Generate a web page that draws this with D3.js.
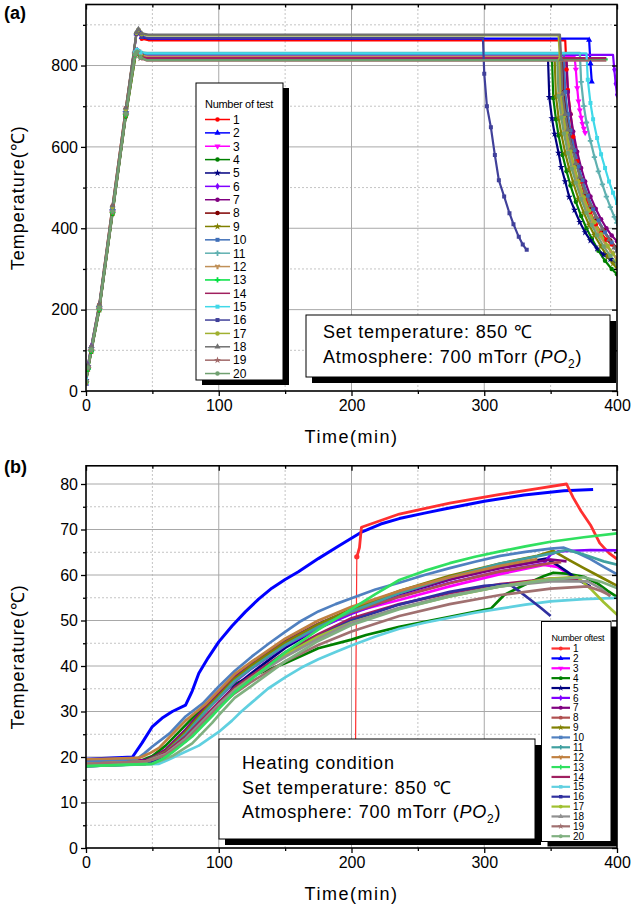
<!DOCTYPE html>
<html><head><meta charset="utf-8">
<script src="https://cdn.jsdelivr.net/npm/d3@7"></script>
<style>body{margin:0;background:#fff} svg{display:block;font-family:Arial,"Liberation Sans",sans-serif}</style>
</head><body><svg id="c" width="641" height="913"></svg>
<script>
// ---------------- DATA ----------------
const testNames = ["1","2","3","4","5","6","7","8","9","10","11","12","13","14","15","16","17","18","19","20"];
const colorsA = ["#ff0000","#0000ff","#ff00ff","#008000","#000080","#8000ff","#800080","#800000","#808000","#3f6fb8","#5fb0b0","#c09058","#00e040","#a0205f","#40d8e8","#40409a","#a0b030","#707070","#a06868","#70a070"];
const colorsB = ["#ff3030","#0000ff","#ff00ff","#008000","#000080","#8000ff","#800080","#b05050","#808000","#5080c0","#40a0a0","#c08040","#30e060","#a02060","#60d0e0","#3030a0","#a0c030","#909090","#a07070","#80b080"];
const markers = ["circle","triangle","triangleDown","circle","star","diamond","circle","circle","star","square","cross","wye","cross","none","square","square","circle","triangle","star","circle"];

const xTicks = [0,100,200,300,400];
const xMinorTicks = [50,150,250,350];
const yTicksA = [0,200,400,600,800];
const yMinorA = [100,300,500,700,900];
const yTicksB = [0,10,20,30,40,50,60,70,80];
const yMinorB = [5,15,25,35,45,55,65,75];

// Panel (a): [time(min), temperature(C)]
const a1 = [[0,22],[1.5,62],[4,108],[10,212],[20,455],[30,695],[38,878],[39.5,886],[42,866],[47,862],[200,862],[361,862],[362,790],[363,740],[365,680],[367,625],[370,565],[373,515],[376,478],[380,440],[384,410],[388,388],[392,372],[396,360],[400,352]];
const a2 = [[0,18],[1.5,58],[4,102],[10,208],[20,448],[30,688],[38,879],[39.5,887],[42,870],[47,866],[200,866],[378,866],[379,863],[380,805],[381,760]];
const a3 = [[0,24],[1.5,55],[4,98],[10,200],[20,438],[30,678],[37,828],[38.5,835],[41,826],[46,823],[200,823],[368,823],[369,790],[370,745],[371,712],[372,690],[373,672],[374,657],[375,645],[376,635]];
const a4 = [[0,20],[1.5,52],[4,96],[10,198],[20,435],[30,675],[37.5,828],[39,834],[41.5,824],[46,819],[200,819],[351,819],[352,720],[354,668],[356,628],[359,580],[362,540],[365,505],[369,465],[373,430],[377,400],[381,375],[386,345],[391,320],[396,300],[400,287]];
const a5 = [[0,26],[1.5,60],[4,104],[10,206],[20,444],[30,684],[37,830],[38.5,836],[41,826],[46,820],[200,820],[348,820],[349,722],[351,670],[353,632],[356,585],[358,550],[361,515],[364,477],[368,445],[372,415],[376,390],[380,370],[385,350],[390,335],[395,324],[400,315]];
const a6 = [[0,30],[1.5,64],[4,110],[10,210],[20,446],[30,686],[37,832],[38.5,837],[41,828],[46,826],[200,826],[397,826],[398,790],[399,755],[400,728]];
const a7 = [[0,22],[1.5,56],[4,100],[10,202],[20,440],[30,680],[37,828],[38.5,834],[41,822],[46,817],[200,817],[362,817],[363,735],[365,680],[367,638],[370,588],[373,548],[376,515],[380,478],[384,448],[388,422],[392,400],[396,382],[400,368]];
const a8 = [[0,28],[1.5,58],[4,102],[10,204],[20,442],[30,682],[37,829],[38.5,835],[41,823],[46,816],[200,816],[359,816],[360,735],[362,680],[364,640],[367,592],[370,553],[373,520],[377,482],[381,450],[385,422],[390,395],[395,370],[400,350]];
const a9 = [[0,20],[1.5,54],[4,98],[10,200],[20,437],[30,677],[37.5,829],[39,835],[41.5,825],[46,820],[200,820],[353,820],[354,725],[356,672],[358,633],[361,585],[364,546],[367,512],[371,472],[375,438],[379,408],[383,383],[388,355],[393,330],[397,313],[400,303]];
const a10 = [[0,24],[1.5,60],[4,106],[10,208],[20,446],[30,686],[37,831],[38.5,837],[41,830],[46,828],[200,828],[360,828],[361,735],[363,680],[365,640],[368,592],[371,552],[374,518],[378,480],[382,447],[386,420],[391,390],[396,365],[400,347]];
const a11 = [[0,26],[1.5,58],[4,104],[10,206],[20,444],[30,684],[37,832],[38.5,838],[41,833],[46,831],[200,831],[372,831],[373,760],[375,700],[377,660],[380,615],[383,575],[386,540],[389,508],[392,478],[395,452],[398,428],[400,413]];
const a12 = [[0,22],[1.5,57],[4,100],[10,203],[20,441],[30,681],[37,829],[38.5,835],[41,825],[46,822],[200,822],[356,822],[357,730],[359,676],[361,636],[364,588],[367,548],[370,514],[374,474],[378,441],[382,412],[387,382],[392,357],[396,340],[400,326]];
const a13 = [[0,20],[1.5,54],[4,98],[10,200],[20,438],[30,678],[37,826],[38.5,833],[41,820],[46,815],[200,815],[393,815]];
const a14 = [[0,24],[1.5,58],[4,102],[10,204],[20,442],[30,682],[37,828],[38.5,834],[41,822],[46,818],[200,818],[392,818]];
const a15 = [[0,28],[1.5,62],[4,106],[10,208],[20,446],[30,686],[37,832],[38.5,838],[41,832],[46,830],[200,830],[377,830],[378,765],[380,708],[382,668],[385,622],[388,582],[391,548],[394,515],[397,487],[400,462]];
const a16 = [[0,22],[1.5,58],[4,104],[10,208],[20,448],[30,688],[38,878],[39.5,886],[42,870],[47,868],[200,868],[299,868],[300,780],[302,700],[305,648],[308,580],[311,518],[315,478],[319,437],[322,410],[326,379],[329,360],[332,347]];
const a17 = [[0,20],[1.5,60],[4,106],[10,210],[20,452],[30,692],[38,880],[39.5,888],[42,877],[47,874],[200,874],[356,874],[357,815],[358,728],[360,676],[362,636],[365,590],[368,550],[371,515],[375,476],[379,443],[383,415],[388,385],[393,357],[397,338],[400,322]];
const a18 = [[0,26],[1.5,64],[4,110],[10,214],[20,456],[30,696],[38,882],[39.5,889],[42,879],[47,876],[200,876],[357,876],[358,815],[359,730],[361,680],[363,642],[366,598],[369,560],[372,526],[376,488],[380,456],[384,428],[389,398],[394,372],[398,352],[400,344]];
const a19 = [[0,22],[1.5,56],[4,100],[10,202],[20,440],[30,680],[37,826],[38.5,832],[41,818],[46,812],[200,812],[392,812]];
const a20 = [[0,24],[1.5,58],[4,102],[10,204],[20,442],[30,682],[37,828],[38.5,834],[41,820],[46,813],[200,813],[355,813],[356,725],[358,672],[360,633],[363,585],[366,546],[369,512],[373,472],[377,438],[381,408],[385,383],[390,355],[395,332],[400,312]];

// Panel (b): [time(min), temperature(C)]
const b1 = [[203,19],[203.5,45],[204,64],[206,66],[207.5,70.5],[236,73.4],[274,75.8],[312,77.7],[340,79],[362,80],[367,77],[373,74],[380,71],[387,67],[394,64.8],[400,63.5]];
const b2 = [[0,19.5],[35,20],[42,23],[50,26.7],[58,28.7],[65,30],[75,31.4],[80,34.5],[85,38.4],[92,41.8],[100,45.3],[110,48.8],[120,51.9],[130,54.7],[140,57.1],[150,59],[160,60.7],[175,63.6],[190,66.3],[208,69.5],[222,71.2],[236,72.4],[255,73.6],[270,74.5],[300,76.2],[330,77.6],[360,78.5],[382,78.8]];
const b3 = [[0,18.5],[45,19],[52,20],[60,21.5],[75,25.5],[90,31.5],[100,34.5],[112,37.8],[125,40.5],[150,45.3],[175,49],[200,51.8],[236,54.5],[274,57.5],[312,60.2],[345,62.2],[355,61.8],[362,60.5],[368,59.5]];
const b4 = [[0,18.5],[40,19],[50,20.2],[60,22.5],[75,27],[90,31.5],[100,33.8],[112,36],[125,37.8],[150,40.6],[175,43.9],[200,45.8],[211,46.8],[236,48.6],[274,50.8],[305,52.6],[315,55.6],[330,57.8],[345,59.8],[352,60.5],[362,60.3],[375,59.6],[385,58.2],[393,56.5],[400,55.2]];
const b5 = [[0,18],[45,18.5],[52,19.2],[60,20.2],[75,23.5],[90,28.5],[100,32],[112,35.5],[125,38.5],[150,44],[175,48.3],[200,51.7],[236,55.8],[274,59],[312,61.8],[347,63.6],[355,62.2],[362,60.8],[372,58.7],[380,57.5]];
const b6 = [[0,18.5],[45,19],[52,19.8],[60,21],[75,25],[90,30],[100,33],[112,36.5],[125,39.5],[150,44.5],[175,48.3],[200,51.5],[236,55.3],[274,58.3],[312,60.8],[345,62.5],[350,64.5],[356,65.2],[380,65.5],[400,65.4]];
const b7 = [[0,19],[45,19.3],[52,20.2],[60,21.6],[75,26],[90,31],[100,34],[112,37.5],[125,40.5],[150,45.5],[175,49.3],[200,52.4],[236,56],[274,59],[312,61.5],[350,63.4],[362,63]];
const b8 = [[0,18.5],[45,19],[52,19.9],[60,21],[75,25],[90,30],[100,33.2],[112,36.8],[125,39.8],[150,44.8],[175,48.8],[200,51.8],[236,55.2],[274,58.2],[312,60.8],[350,62.6],[358,62.8]];
const b9 = [[0,18.5],[45,19],[52,20],[60,21.2],[75,25.5],[90,30.5],[100,33.5],[112,37.2],[125,40.2],[150,45.2],[175,49.2],[200,52.5],[236,56.5],[274,59.8],[312,62.5],[340,64.2],[352,65.3],[362,63.6],[375,61.5],[388,59.5],[401,57.5]];
const b10 = [[0,19],[38,19.5],[44,20.8],[50,22.3],[63,25.2],[75,28.9],[88,31.8],[100,35.5],[112,38.9],[125,42.1],[138,45],[150,47.5],[162,49.9],[175,52],[188,53.6],[200,54.9],[218,56.8],[236,58.3],[255,60],[274,61.5],[293,62.9],[312,64.2],[331,65.1],[350,65.8],[360,66],[370,64.9],[380,63.5],[390,61.8],[401,60]];
const b11 = [[0,18.5],[45,19],[52,19.9],[60,21],[75,25],[90,30],[100,33],[112,36.7],[125,39.6],[150,44.6],[175,48.6],[200,52],[236,56],[274,59.5],[312,62.5],[350,64.7],[362,65.5],[372,64.8],[380,64],[390,63],[401,62.2]];
const b12 = [[0,19.5],[40,19.8],[48,20.8],[55,22],[65,25],[75,28],[90,31.6],[100,34.6],[112,38.2],[125,41],[150,46],[175,50],[200,53],[236,56.5],[274,59.5],[312,62],[340,63.5]];
const b13 = [[0,18],[50,18.5],[58,19.6],[65,21],[80,24.5],[95,29],[100,30.6],[112,34.2],[125,37.2],[150,43],[175,48],[200,52.5],[218,55.8],[236,58.9],[255,60.9],[274,62.6],[293,64],[312,65.2],[331,66.3],[350,67.3],[375,68.3],[401,69.2]];
const b14 = [[0,18.5],[45,19],[52,19.8],[60,21],[75,24.5],[90,29],[100,32],[112,35.3],[125,38],[150,43],[175,47],[200,50.5],[236,53.6],[274,56],[312,58],[350,59.2],[372,59]];
const b15 = [[0,18],[55,18.5],[62,19.4],[70,20.5],[85,22.5],[100,25.5],[110,28],[117,30],[125,32],[137,35],[150,37.5],[162,39.6],[175,41.5],[188,43.1],[200,44.5],[218,46.5],[236,48.2],[255,49.5],[274,50.6],[293,51.7],[312,52.6],[331,53.5],[350,54.2],[375,54.7],[401,55]];
const b16 = [[0,18],[45,18.5],[52,19.4],[60,20.5],[75,24],[90,28.5],[100,31.5],[112,34.8],[125,37.5],[150,42.5],[175,46.5],[200,50],[236,53.5],[274,56.3],[300,57.6],[319,58],[327,56.3],[335,54.5],[343,52.7],[350,51]];
const b17 = [[0,18.5],[45,19],[52,19.7],[60,20.6],[75,24],[90,28.5],[100,31.5],[112,34.8],[125,37.5],[150,42.5],[175,46.5],[200,49.6],[236,52.6],[274,55.3],[312,57.5],[350,59.2],[370,59.6],[380,57],[390,54],[401,51]];
const b18 = [[0,18.5],[45,19],[52,19.7],[60,20.6],[75,24],[90,28.5],[100,31.5],[112,34.6],[125,37.4],[150,42],[175,46],[200,49.5],[236,52.8],[274,55.5],[312,57.5],[350,58.6],[378,58.6],[388,57],[395,55.3]];
const b19 = [[0,18.5],[45,19],[52,19.6],[60,20.4],[75,23.5],[90,28],[100,31],[112,34],[125,36.6],[150,41],[175,44.6],[200,47.6],[236,51],[274,53.6],[312,55.6],[350,57],[378,57.5],[388,56.5],[395,55.5]];
const b20 = [[0,18],[50,18.5],[57,19.3],[65,20.2],[80,23],[95,27.5],[100,29.2],[112,33],[125,35.7],[150,41],[175,45.5],[200,49],[236,52.5],[274,55.3],[312,57.5],[350,59],[375,59.5],[388,58.5],[401,57]];

const seriesA = [a1,a2,a3,a4,a5,a6,a7,a8,a9,a10,a11,a12,a13,a14,a15,a16,a17,a18,a19,a20];
const seriesB = [b1,b2,b3,b4,b5,b6,b7,b8,b9,b10,b11,b12,b13,b14,b15,b16,b17,b18,b19,b20];
const orderB = [1,0,2,3,4,5,6,7,8,9,10,11,13,14,15,16,17,18,19,12];

// ---------------- DRAW ----------------
const svg = d3.select("#c");
const xA = d3.scaleLinear().domain([0,400]).range([86,617]);
const yA = d3.scaleLinear().domain([0,950]).range([391,4.5]);
const xB = d3.scaleLinear().domain([0,400]).range([86,617]);
const yB = d3.scaleLinear().domain([0,84]).range([848,465.8]);

function symPath(type, size){
  const map = {circle:d3.symbolCircle, triangle:d3.symbolTriangle, triangleDown:d3.symbolTriangle, diamond:d3.symbolDiamond, star:d3.symbolStar, square:d3.symbolSquare, cross:d3.symbolCross, wye:d3.symbolWye};
  return d3.symbol().type(map[type]||d3.symbolCircle).size(size)();
}

function frame(id, x, y, xMaj, xMin, yMaj, yMin){
  const [xl,xr] = x.range(), [yb,yt] = y.range();
  const g = svg.append("g");
  svg.append("clipPath").attr("id","clip"+id).append("rect").attr("x",xl).attr("y",yt).attr("width",xr-xl).attr("height",yb-yt);
  g.selectAll(".gxm").data(xMin).join("line").attr("x1",d=>x(d)).attr("x2",d=>x(d)).attr("y1",yb).attr("y2",yt).attr("stroke","#c4c4c4").attr("stroke-dasharray","2,2");
  g.selectAll(".gym").data(yMin).join("line").attr("y1",d=>y(d)).attr("y2",d=>y(d)).attr("x1",xl).attr("x2",xr).attr("stroke","#c4c4c4").attr("stroke-dasharray","2,2");
  g.selectAll(".gx").data(xMaj.filter(d=>d>0&&d<400)).join("line").attr("x1",d=>x(d)).attr("x2",d=>x(d)).attr("y1",yb).attr("y2",yt).attr("stroke","#a8a8a8");
  g.selectAll(".gy").data(yMaj.filter(d=>d>0)).join("line").attr("y1",d=>y(d)).attr("y2",d=>y(d)).attr("x1",xl).attr("x2",xr).attr("stroke","#a8a8a8");
}

function axes(x, y, xMaj, xMin, yMaj, yMin){
  const [xl,xr] = x.range(), [yb,yt] = y.range();
  const ax = (gen, tx, ty) => {
    const g = svg.append("g").attr("transform",`translate(${tx},${ty})`).call(gen);
    g.select(".domain").remove();
    g.selectAll("line").attr("stroke","#000").attr("stroke-width",1.3);
    g.selectAll("text").attr("font-size",16).attr("fill","#000").attr("font-family","Arial, 'Liberation Sans', sans-serif");
    return g;
  };
  ax(d3.axisBottom(x).tickValues(xMaj).tickSize(5).tickPadding(4).tickFormat(d3.format("d")), 0, yb);
  ax(d3.axisBottom(x).tickValues(xMin).tickSize(3).tickFormat(""), 0, yb);
  ax(d3.axisLeft(y).tickValues(yMaj).tickSize(5).tickPadding(3).tickFormat(d3.format("d")), xl, 0);
  ax(d3.axisLeft(y).tickValues(yMin).tickSize(3).tickFormat(""), xl, 0);
  ax(d3.axisTop(x).tickValues(xMaj).tickSize(-5).tickFormat(""), 0, yt);
  ax(d3.axisTop(x).tickValues(xMin).tickSize(-3).tickFormat(""), 0, yt);
  ax(d3.axisRight(y).tickValues(yMaj).tickSize(-5).tickFormat(""), xr, 0);
  ax(d3.axisRight(y).tickValues(yMin).tickSize(-3).tickFormat(""), xr, 0);
  svg.append("rect").attr("x",xl).attr("y",yt).attr("width",xr-xl).attr("height",yb-yt).attr("fill","none").attr("stroke","#000").attr("stroke-width",1.6);
}

// Panel A
frame("A", xA, yA, xTicks, xMinorTicks, yTicksA, yMinorA);
const gA = svg.append("g").attr("clip-path","url(#clipA)");
const lineA = d3.line().x(d=>xA(d[0])).y(d=>yA(d[1]));
seriesA.forEach((s,i)=>{
  gA.append("path").attr("d",lineA(s)).attr("fill","none").attr("stroke",colorsA[i]).attr("stroke-width",2.2).attr("stroke-linejoin","round");
});
seriesA.forEach((s,i)=>{
  if(markers[i]==="none") return;
  const pts = s.filter((d,j)=>!( (j>0 && s[j-1][1]===d[1]) || (j<s.length-1 && s[j+1][1]===d[1]) ));
  gA.selectAll(null).data(pts).join("path")
    .attr("d",symPath(markers[i],16))
    .attr("transform",d=>`translate(${xA(d[0])},${yA(d[1])})${markers[i]==="triangleDown"?" rotate(180)":""}`)
    .attr("fill",colorsA[i]);
});
axes(xA, yA, xTicks, xMinorTicks, yTicksA, yMinorA);

// Panel B
frame("B", xB, yB, xTicks, xMinorTicks, yTicksB, yMinorB);
const gB = svg.append("g").attr("clip-path","url(#clipB)");
const lineB = d3.line().x(d=>xB(d[0])).y(d=>yB(d[1]));
orderB.forEach(i=>{
  const s = seriesB[i];
  if(i===0){
    // thin vertical jump, thick afterwards
    gB.append("path").attr("d",lineB(s.slice(0,3))).attr("fill","none").attr("stroke",colorsB[i]).attr("stroke-width",1.2);
    gB.append("path").attr("d",lineB(s.slice(2))).attr("fill","none").attr("stroke",colorsB[i]).attr("stroke-width",2.8).attr("stroke-linejoin","round");
    gB.append("path").attr("d",symPath("circle",22)).attr("transform",`translate(${xB(s[2][0])},${yB(s[2][1])})`).attr("fill",colorsB[i]);
  } else {
    gB.append("path").attr("d",lineB(s)).attr("fill","none").attr("stroke",colorsB[i]).attr("stroke-width",i===1?3:2.7).attr("stroke-linejoin","round");
  }
});
axes(xB, yB, xTicks, xMinorTicks, yTicksB, yMinorB);

// Labels
const font = "Arial, 'Liberation Sans', sans-serif";
svg.append("text").attr("x",4).attr("y",19).attr("font-size",18).attr("font-weight","bold").attr("font-family",font).text("(a)");
svg.append("text").attr("x",4).attr("y",473).attr("font-size",18).attr("font-weight","bold").attr("font-family",font).text("(b)");
[[yA,"a"],[yB,"b"]].forEach(([y,k])=>{
  const [yb,yt] = y.range();
  svg.append("text").attr("transform",`translate(24,${(yb+yt)/2}) rotate(-90)`).attr("text-anchor","middle")
    .attr("font-size",18).attr("letter-spacing",1).attr("font-family",font).text("Temperature(℃)");
  svg.append("text").attr("x",(86+617)/2).attr("y",yb+52).attr("text-anchor","middle")
    .attr("font-size",18).attr("letter-spacing",1.5).attr("font-family",font).text("Time(min)");
});

function textBox(x, y, w, h, lines, tx, ty0, dy){
  svg.append("rect").attr("x",x+6).attr("y",y+6).attr("width",w).attr("height",h).attr("fill","#000");
  svg.append("rect").attr("x",x).attr("y",y).attr("width",w).attr("height",h).attr("fill","#fff").attr("stroke","#000").attr("stroke-width",1);
  lines.forEach((ln,k)=>{
    const t = svg.append("text").attr("x",tx).attr("y",ty0+k*dy).attr("font-size",18).attr("letter-spacing",0.8).attr("font-family",font);
    if(ln==="PO2"){
      t.append("tspan").text("Atmosphere: 700 mTorr (");
      t.append("tspan").attr("font-style","italic").text("PO");
      t.append("tspan").attr("font-size",12).attr("dy",5).text("2");
      t.append("tspan").attr("dy",-5).text(")");
    } else t.text(ln);
  });
}
textBox(306,315,304,62,["Set temperature: 850 ℃","PO2"],323,338,25);
textBox(219,739,316,100,["Heating condition","Set temperature: 850 ℃","PO2"],242,769,24.5);

function legend(x, y, w, h, title, titleSize, labSize, ty, y0, step, lx0, lx1, colors, withMarkers, shadowDx){
  svg.append("rect").attr("x",x+shadowDx).attr("y",y+5).attr("width",w).attr("height",h).attr("fill","#000");
  svg.append("rect").attr("x",x).attr("y",y).attr("width",w).attr("height",h).attr("fill","#fff").attr("stroke","#000").attr("stroke-width",1);
  svg.append("text").attr("x",lx0).attr("y",ty).attr("font-size",titleSize).attr("font-family",font).attr("letter-spacing",-0.3).text(title);
  testNames.forEach((n,i)=>{
    const yy = y0 + i*step;
    svg.append("line").attr("x1",lx0).attr("x2",lx1).attr("y1",yy).attr("y2",yy).attr("stroke",colors[i]).attr("stroke-width",withMarkers?1.5:2.2);
    if(markers[i]!=="none"){
      svg.append("path").attr("d",symPath(markers[i],withMarkers?16:12))
        .attr("transform",`translate(${(lx0+lx1)/2},${yy})${markers[i]==="triangleDown"?" rotate(180)":""}`).attr("fill",colors[i]);
    }
    svg.append("text").attr("x",lx1+3).attr("y",yy+labSize*0.36).attr("font-size",labSize).attr("font-family",font).text(n);
  });
}
legend(196,83,87,297,"Number of test",11,12,108,119.5,13.37,205,230,colorsA,true,6);
legend(541.5,621.5,69.5,220,"Number oftest",9,10,640.5,648.5,9.88,551.5,570,colorsB,false,6);
</script></body></html>
